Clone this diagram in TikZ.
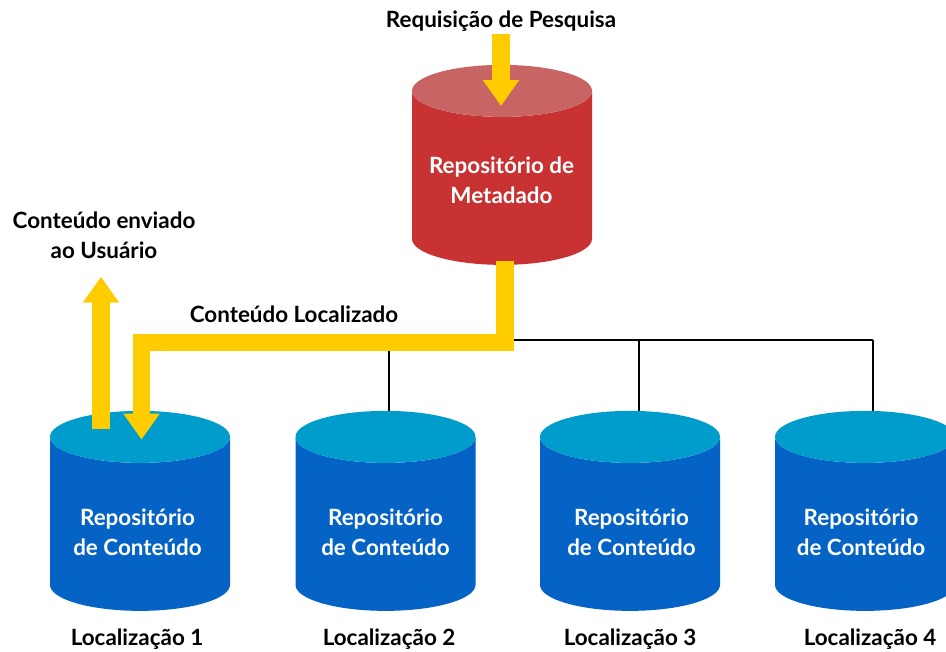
\documentclass[tikz,border=0pt]{standalone}
\usepackage{fontspec}
\setmainfont{Lato}
\usetikzlibrary{shapes.geometric, arrows.meta}
\usetikzlibrary{calc}
\definecolor{corAmarelo}{HTML}{FFCC00}
\definecolor{corAzul}{HTML}{0563C6}
\definecolor{corAzulTopo}{HTML}{009CCB}
\definecolor{corVermelho}{HTML}{C93232}
\definecolor{corVermelhoTopo}{HTML}{C86464}

\begin{document}
\begin{tikzpicture}[x=0.75pt, y=-0.75pt,
        repo/.style={cylinder, shape border rotate=90, shape aspect=0.289,
          text width=135pt, minimum width=135pt, minimum height=150pt,
          cylinder uses custom fill, inner sep=0pt},
        repoAzul/.style={repo, cylinder body fill=corAzul, cylinder end fill=corAzulTopo},
        repoVermelho/.style={repo, cylinder body fill=corVermelho, cylinder end fill=corVermelhoTopo},
        rotulo/.style={align=center, text=black, font=\bfseries\fontsize{16.8}{22.5}\selectfont},
        rotuloRepo/.style={rotulo, text=white},
        fluxo/.style={corAmarelo, line width=13pt,
          -{Triangle[width=26pt, length=19.5pt]}},
        barra/.style={black, line width=2.2pt},
      ]
      \useasboundingbox (0,0) rectangle (946,651);

      % ligacoes pretas
      \coordinate (j0) at (505,340);
      \coordinate (j2) at (389,340);
      \coordinate (j3) at (639,340);
      \coordinate (j4) at (873,340);
      \draw[barra] (j0) -- (j4);

      \node[repoVermelho] (meta) at (502,178) {};
      \node[repoAzul] (rep1) at (140,524) {};
      \node[repoAzul] (rep2) at (385.5,524) {};
      \node[repoAzul] (rep3) at (630,524) {};
      \node[repoAzul] (rep4) at (865,524) {};

      \draw[barra] (j2) -- (j2 |- rep2.north);
      \draw[barra] (j3) -- (j3 |- rep3.north);
      \draw[barra] (j4) -- (j4 |- rep4.north);

      \node[rotuloRepo] (metaTxt) at (501.5,180) {Repositório de\\Metadado};
      \node[rotuloRepo] (rep1Txt) at (137.5,532) {Repositório\\de Conteúdo};
      \node[rotuloRepo] (rep2Txt) at (385.5,532) {Repositório\\de Conteúdo};
      \node[rotuloRepo] (rep3Txt) at (631.5,532) {Repositório\\de Conteúdo};
      \node[rotuloRepo] (rep4Txt) at (861,532) {Repositório\\de Conteúdo};

      \node[rotulo] (pedido) at (501,21) {Requisição de Pesquisa};
      \node[rotulo] (usuario) at (104,235) {Conteúdo enviado\\ao Usuário};
      \node[rotulo] (local) at (294,314) {Conteúdo Localizado};
      \node[rotulo] (loc1) at (137,639) {Localização 1};
      \node[rotulo] (loc2) at (389,639) {Localização 2};
      \node[rotulo] (loc3) at (630,639) {Localização 3};
      \node[rotulo] (loc4) at (870,639) {Localização 4};

      % setas amarelas
      \coordinate (ini) at (501,34);
      \coordinate (fim) at (501,106);
      \draw[fluxo] (ini) -- (fim);
      \coordinate (c0) at (505,261);
      \coordinate (c1) at (505,342.5);
      \coordinate (c2) at (141.5,342.5);
      \coordinate (c3) at (141.5,439.6);
      \draw[fluxo] (c0) -- (c1) -- (c2) -- (c3);
      \coordinate (sobe) at (101,429);
      \coordinate (topo) at (101,276.7);
      \draw[fluxo] (sobe) -- (topo);
    \end{tikzpicture}
\end{document}
